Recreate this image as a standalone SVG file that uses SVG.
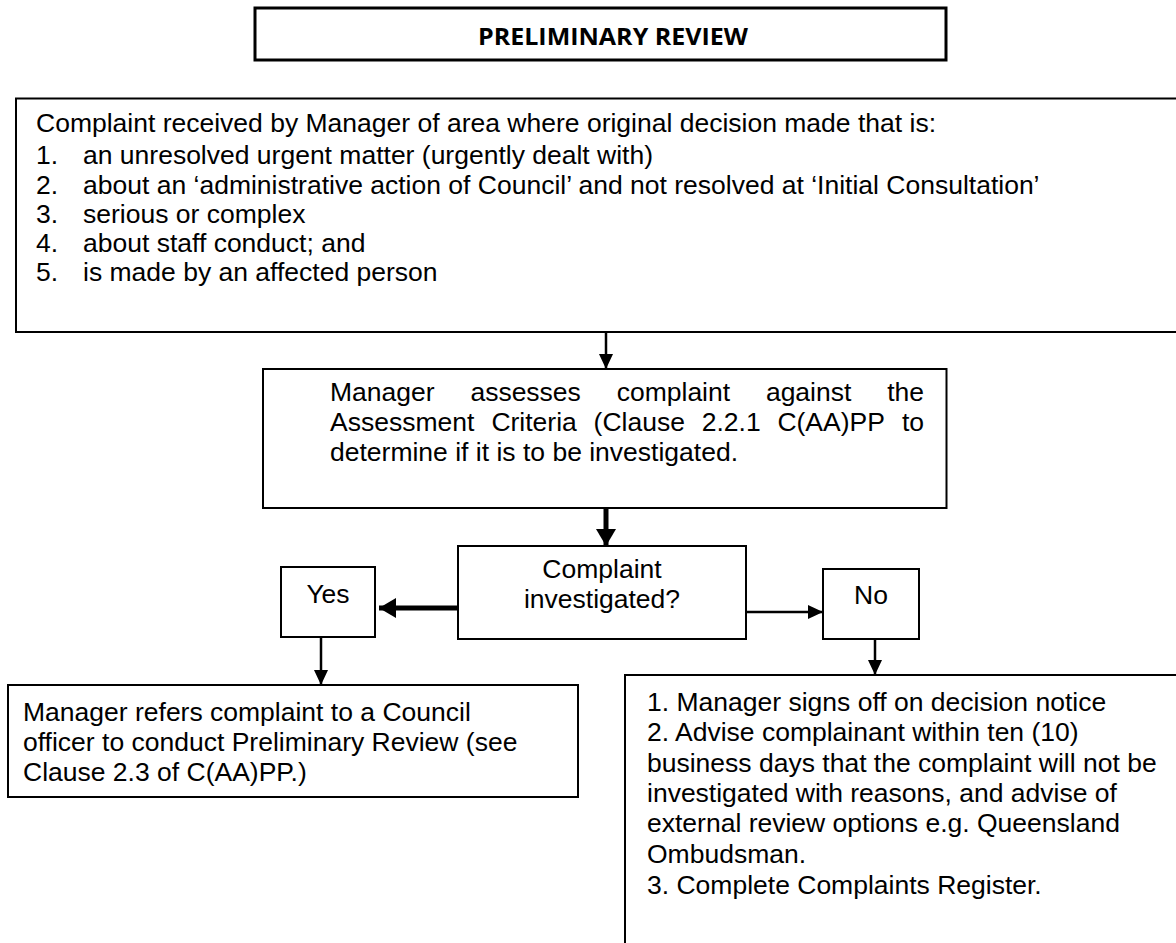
<svg xmlns="http://www.w3.org/2000/svg" width="1176" height="943" viewBox="0 0 1176 943">
<style>
.box{fill:#fff;stroke:#000;stroke-width:2}
.t{font-family:"Liberation Sans",Arial,sans-serif;font-size:26.5px;fill:#000}
.c{text-anchor:middle}
.e{text-anchor:end}
.cn{stroke:#000;fill:none}
</style>
<defs>
<marker id="ah" markerUnits="userSpaceOnUse" markerWidth="16" markerHeight="16" refX="15" refY="7" orient="auto">
<path d="M0,0 L15,7 L0,14 Z" fill="#000"/>
</marker>
<marker id="ahb" markerUnits="userSpaceOnUse" markerWidth="20" markerHeight="22" refX="17" refY="10" orient="auto">
<path d="M0,0 L17,10 L0,20 Z" fill="#000"/>
</marker>
</defs>
<g id="title">
<rect x="255" y="8" width="691" height="52" fill="#fff" stroke="#000" stroke-width="3"/>
<text x="613" y="45" class="c" font-family="'Open Sans',sans-serif" font-weight="bold" font-size="24" textLength="270" lengthAdjust="spacingAndGlyphs">PRELIMINARY REVIEW</text>
</g>
<g id="received">
<rect class="box" x="16" y="98.5" width="1175" height="233.5"/>
<text class="t" x="36" y="132">Complaint received by Manager of area where original decision made that is:</text>
<text class="t" y="164"><tspan x="36">1.</tspan><tspan x="83">an unresolved urgent matter (urgently dealt with)</tspan></text>
<text class="t" y="193.5"><tspan x="36">2.</tspan><tspan x="83">about an ‘administrative action of Council’ and not resolved at ‘Initial Consultation’</tspan></text>
<text class="t" y="222.5"><tspan x="36">3.</tspan><tspan x="83">serious or complex</tspan></text>
<text class="t" y="251.5"><tspan x="36">4.</tspan><tspan x="83">about staff conduct; and</tspan></text>
<text class="t" y="281"><tspan x="36">5.</tspan><tspan x="83">is made by an affected person</tspan></text>
</g>
<g id="assess">
<rect class="box" x="263" y="369" width="683.5" height="139"/>
<text class="t" y="401"><tspan x="330">Manager</tspan><tspan x="470.4">assesses</tspan><tspan x="616.7">complaint</tspan><tspan x="765.9">against</tspan></text>
<text class="t e" x="924" y="401">the</text>
<text class="t" y="431"><tspan x="330">Assessment</tspan><tspan x="491.4">Criteria</tspan><tspan x="593.6">(Clause</tspan><tspan x="701.7">2.2.1</tspan><tspan x="777.4">C(AA)PP</tspan></text>
<text class="t e" x="924" y="431">to</text>
<text class="t" x="330" y="461">determine if it is to be investigated.</text>
</g>
<g id="decision">
<rect class="box" x="458" y="546" width="288" height="93"/>
<text class="t c" x="602" y="578">Complaint</text>
<text class="t c" x="602" y="608">investigated?</text>
</g>
<g id="yes">
<rect class="box" x="281" y="567" width="94" height="70"/>
<text class="t c" x="328" y="603">Yes</text>
</g>
<g id="no">
<rect class="box" x="823" y="569" width="96" height="70"/>
<text class="t c" x="871" y="604">No</text>
</g>
<g id="refer">
<rect class="box" x="8" y="685" width="570" height="112"/>
<text class="t" x="23" y="721">Manager refers complaint to a Council</text>
<text class="t" x="23" y="751">officer to conduct Preliminary Review (see</text>
<text class="t" x="23" y="781">Clause 2.3 of C(AA)PP.)</text>
</g>
<g id="signoff">
<rect class="box" x="625" y="675" width="570" height="290"/>
<text class="t" x="647" y="711">1. Manager signs off on decision notice</text>
<text class="t" x="647" y="741">2. Advise complainant within ten (10)</text>
<text class="t" x="647" y="772">business days that the complaint will not be</text>
<text class="t" x="647" y="802">investigated with reasons, and advise of</text>
<text class="t" x="647" y="832">external review options e.g. Queensland</text>
<text class="t" x="647" y="863">Ombudsman.</text>
<text class="t" x="647" y="894">3. Complete Complaints Register.</text>
</g>
<g id="connectors">
<line class="cn" x1="606" y1="332" x2="606" y2="369" stroke-width="2.5" marker-end="url(#ah)"/>
<line class="cn" x1="606" y1="508" x2="606" y2="546" stroke-width="5" marker-end="url(#ahb)"/>
<line class="cn" x1="458" y1="608" x2="379" y2="608" stroke-width="5" marker-end="url(#ahb)"/>
<line class="cn" x1="746" y1="612" x2="823" y2="612" stroke-width="2.5" marker-end="url(#ah)"/>
<line class="cn" x1="321" y1="637" x2="321" y2="685" stroke-width="2.5" marker-end="url(#ah)"/>
<line class="cn" x1="875" y1="639" x2="875" y2="675" stroke-width="2.5" marker-end="url(#ah)"/>
</g>
</svg>
